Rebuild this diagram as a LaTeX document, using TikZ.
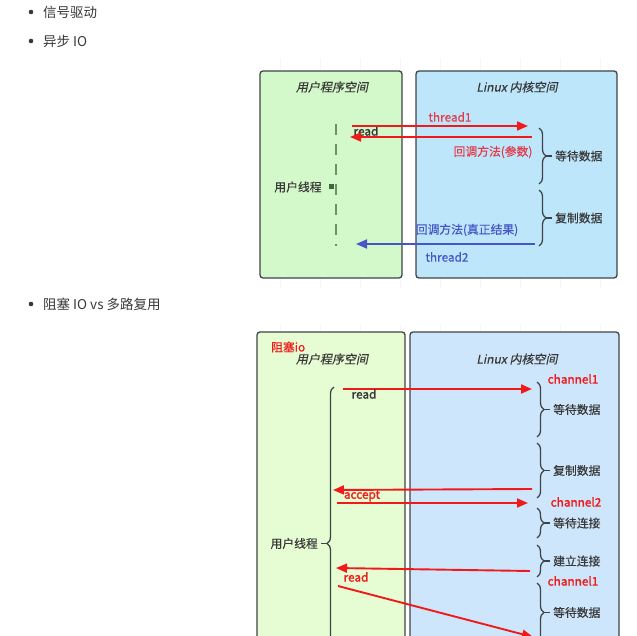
\documentclass[tikz,border=0pt]{standalone}
\usepackage{fontspec}
\setmainfont{Noto Sans CJK SC}
\newfontfamily\rgfont[FakeBold=0.4]{Noto Sans CJK SC}
\newfontfamily\slfont[FakeSlant=0.2,FakeBold=0.4]{Noto Sans CJK SC}
\newfontfamily\bdfont[FakeBold=1.6]{Noto Sans CJK SC}
\usetikzlibrary{arrows.meta,decorations.pathreplacing}
\definecolor{usergreenA}{HTML}{D3F8C9}
\definecolor{kernblueA}{HTML}{BDE6FB}
\definecolor{usergreenB}{HTML}{E6FCD2}
\definecolor{kernblueB}{HTML}{CEE6FB}
\definecolor{edgegray}{HTML}{3F4447}
\definecolor{callred}{HTML}{F01A1A}
\definecolor{labred}{HTML}{E23B4A}
\definecolor{callblue}{HTML}{4656C8}
\definecolor{txtgray}{HTML}{383838}
\definecolor{threadgreen}{HTML}{3C6A3C}
\tikzset{
  space/.style={draw=edgegray,line width=1.3pt,rounded corners=3pt},
  spacetitle/.style={font=\slfont\fontsize{12}{14}\selectfont,text=txtgray,inner sep=1pt},
  lbl/.style={font=\rgfont\fontsize{11.8}{14}\selectfont,text=txtgray,inner sep=1pt},
  bullettext/.style={font=\fontsize{13.5}{16}\selectfont,text=txtgray,anchor=west,inner sep=0pt},
  redcall/.style={-{Triangle[length=11pt,width=9pt]},line width=1.9pt,draw=callred},
  bluecall/.style={-{Triangle[length=11pt,width=9pt]},line width=1.9pt,draw=callblue},
  kbrace/.style={decorate,decoration={brace,amplitude=7pt},draw=edgegray,line width=1.3pt},
  chan/.style={font=\bdfont\fontsize{11.8}{14}\selectfont,text=callred,inner sep=1pt},
}
\begin{document}
\begin{tikzpicture}[x=1pt,y=-1pt]
  \clip (0,0) rectangle (637,636);
  \fill[white] (0,0) rectangle (637,636);
  % page bullets
  \foreach \by/\btext/\bname in {12/信号驱动/sig,41/异步 IO/aio,304/阻塞 IO vs 多路复用/blk}{
    \fill[txtgray] (31,\by) circle (2.3);
    \node[bullettext] (b\bname) at (43,\by) {\btext};
  }
  % faint grid behind the two drawings
  \draw[gray!7,line width=0.6pt,step=40] (258,58) grid (630,288);
  \draw[gray!7,line width=0.6pt,step=40] (250,325) grid (632,636);

  % ---------- async io ----------
  \draw[space,fill=usergreenA] (260,71) rectangle (402,278);
  \draw[space,fill=kernblueA] (416,71) rectangle (617,278);
  \node[spacetitle] (userA) at (332,87) {用户程序空间};
  \node[spacetitle] (kernA) at (517,87) {Linux 内核空间};
  % user thread
  \draw[threadgreen!75,line width=2.8pt,dash pattern=on 11pt off 9pt] (336,124) -- (336,246);
  \fill[threadgreen] (329,184) rectangle (334,189);
  \node[lbl] (thrA) at (298,187) {用户线程};
  \node[lbl,font=\bdfont\fontsize{11.8}{14}\selectfont] (readA) at (366,131) {read};
  % calls
  \coordinate (a1s) at (352,126); \coordinate (a1e) at (528,126);
  \coordinate (a2s) at (532,137); \coordinate (a2e) at (350,137);
  \coordinate (a3s) at (535,244); \coordinate (a3e) at (356,244);
  \draw[redcall] (a1s) -- (a1e);
  \draw[redcall] (a2s) -- (a2e);
  \draw[bluecall] (a3s) -- (a3e);
  \node[lbl,text=labred] (t1) at (450,117) {thread1};
  \node[lbl,text=labred] (cbA) at (493,152) {回调方法(参数)};
  \node[lbl,text=callblue] (cbB) at (467,230) {回调方法(真正结果)};
  \node[lbl,text=callblue] (t2) at (447,257) {thread2};
  % kernel phases
  \draw[kbrace] (539,128) -- (539,184);
  \draw[edgegray,line width=1.3pt] (546,156) -- (552,156);
  \node[lbl,anchor=west] (waitA) at (554,156) {等待数据};
  \draw[kbrace] (539,190) -- (539,246);
  \draw[edgegray,line width=1.3pt] (546,218) -- (552,218);
  \node[lbl,anchor=west] (copyA) at (554,218) {复制数据};

  % ---------- blocking io ----------
  \draw[space,fill=usergreenB] (257,332) rectangle (405,680);
  \draw[space,fill=kernblueB] (410,332) rectangle (619,680);
  \node[lbl,text=callred,anchor=west] (blkT) at (270,347) {阻塞io};
  \node[spacetitle] (userB) at (332,359) {用户程序空间};
  \node[spacetitle] (kernB) at (517,359) {Linux 内核空间};
  % user thread
  \draw[kbrace] (334,700) -- (334,387);
  \draw[edgegray,line width=1.3pt] (321,543.5) -- (327,543.5);
  \node[lbl,anchor=east] (thrB) at (319,543.5) {用户线程};
  % calls
  \coordinate (b1s) at (343,389); \coordinate (b1e) at (532,389);
  \coordinate (b2s) at (532,489); \coordinate (b2e) at (333,490);
  \coordinate (b3s) at (337,503); \coordinate (b3e) at (528,503);
  \coordinate (b4s) at (530,571); \coordinate (b4e) at (336,568);
  \coordinate (b5s) at (338,586); \coordinate (b5e) at (533,637);
  \draw[redcall] (b1s) -- (b1e);
  \draw[redcall] (b2s) -- (b2e);
  \draw[redcall] (b3s) -- (b3e);
  \draw[redcall] (b4s) -- (b4e);
  \draw[redcall] (b5s) -- (b5e);
  \node[lbl,font=\bdfont\fontsize{11.8}{14}\selectfont] (readB) at (364,394) {read};
  \node[chan] (acc) at (362,496) {accept};
  \node[chan] (readC) at (356,577) {read};
  \node[chan] (ch1) at (573,379) {channel1};
  \node[chan] (ch2) at (576,502) {channel2};
  \node[chan] (ch1b) at (573,581) {channel1};
  % kernel phases
  \foreach \ty/\by/\ptext/\pname in {382/437/等待数据/wd1,443/498/复制数据/cp1,508/538/等待连接/wc,545/577/建立连接/ec,583/642/等待数据/wd2}{
    \draw[kbrace] (537,\ty) -- (537,\by);
    \draw[edgegray,line width=1.3pt] (544,{(\ty+\by)/2}) -- (550,{(\ty+\by)/2});
    \node[lbl,anchor=west] (\pname) at (552,{(\ty+\by)/2}) {\ptext};
  }
\end{tikzpicture}
\end{document}
